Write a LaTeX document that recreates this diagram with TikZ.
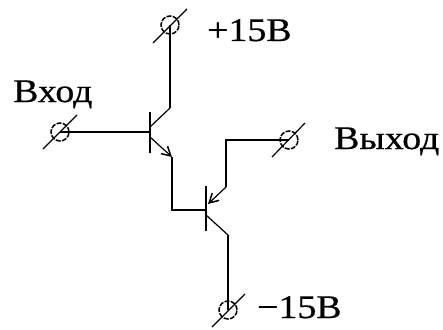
\documentclass[tikz,border=0pt]{standalone}
\usepackage{fontspec}
\setmainfont[FakeBold=0.6]{Liberation Serif}
\usetikzlibrary{arrows.meta}
\tikzset{
  x=1pt,y=-1pt,
  wire/.style={line width=1.7pt,line join=miter},
  thinwire/.style={line width=1.2pt},
  bar/.style={line width=1.8pt},
  termring/.style={circle,draw,dash pattern=on 5pt off 1.3pt,line width=1.5pt,minimum size=18pt,inner sep=0pt},
  lab/.style={inner sep=0pt,font=\fontsize{33}{35}\selectfont,anchor=base west,xscale=1.145,transform shape},
  emit/.style={line width=1.2pt,-{Straight Barb[length=9pt,width=10pt,line width=1.5pt]}}
}
\begin{document}
\begin{tikzpicture}
\useasboundingbox (0,0) rectangle (443,329);
% terminals
\node[termring] (tp) at (170,25) {};
\node[termring] (tin) at (60,132) {};
\node[termring] (tout) at (289,140) {};
\node[termring] (tm) at (228,310) {};
\foreach \t/\xa/\ya/\xb/\yb in {tp/153/43/187/9,tin/43/149/77/115,tout/272/157/305/123,tm/212/327/245/294}{
  \coordinate (\t a) at (\xa,\ya);
  \coordinate (\t b) at (\xb,\yb);
  \draw[thinwire] (\t a) -- (\t b);
}
% transistor 1
\coordinate (b1t) at (150,112);
\coordinate (b1b) at (150,153);
\coordinate (b1) at (150,132);
\coordinate (c1) at (150,127);
\coordinate (c1k) at (170,108);
\coordinate (e1) at (150,137);
\coordinate (e1k) at (172,157);
\draw[bar] (b1t) -- (b1b);
\draw[wire] (tin.center) -- (b1);
\draw[thinwire] (c1) -- (c1k);
\draw[wire] (c1k) -- (tp.center);
\draw[emit] (e1) -- (e1k);
% transistor 2
\coordinate (b2t) at (206,186);
\coordinate (b2b) at (206,231);
\coordinate (b2) at (206,210);
\coordinate (e2) at (208,204);
\coordinate (e2k) at (226,187);
\coordinate (c2) at (206,215);
\coordinate (c2k) at (228,235);
\draw[bar] (b2t) -- (b2b);
\draw[wire] (e1k) -- (172,210) -- (b2);
\draw[wire] (tout.center) -- (226,140) -- (e2k);
\draw[emit] (e2k) -- (e2);
\draw[thinwire] (c2) -- (c2k);
\draw[wire] (c2k) -- (tm.center);
% labels
\node[lab] (lp) at (207,41) {+15В};
\node[lab] (lin) at (13,102) {Вход};
\node[lab] (lout) at (334,149) {Выход};
\node[lab] (lm) at (257,318) {−15В};
\end{tikzpicture}
\end{document}
